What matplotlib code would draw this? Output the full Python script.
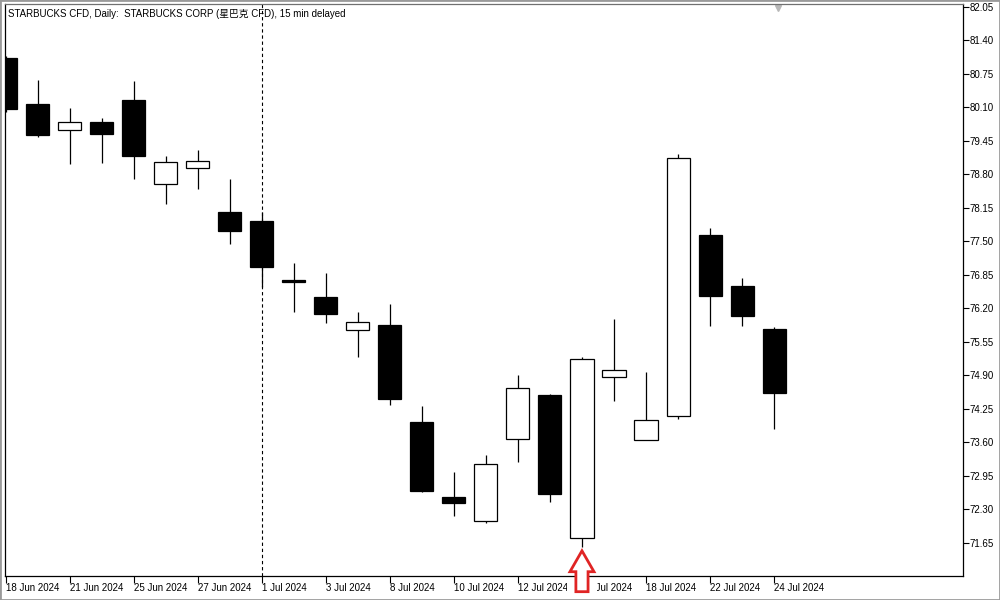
import matplotlib
matplotlib.use("Agg")
import matplotlib.pyplot as plt
import matplotlib.transforms as mtransforms
from matplotlib.patches import Polygon, Rectangle
import numpy as np

# daily candles, STARBUCKS CFD
dates = ['18 Jun 2024', '20 Jun 2024', '21 Jun 2024', '24 Jun 2024', '25 Jun 2024',
         '26 Jun 2024', '27 Jun 2024', '28 Jun 2024', '1 Jul 2024', '2 Jul 2024',
         '3 Jul 2024', '5 Jul 2024', '8 Jul 2024', '9 Jul 2024', '10 Jul 2024',
         '11 Jul 2024', '12 Jul 2024', '15 Jul 2024', '16 Jul 2024', '17 Jul 2024',
         '18 Jul 2024', '19 Jul 2024', '22 Jul 2024', '23 Jul 2024', '24 Jul 2024']
opens  = [81.05, 80.16, 79.65, 79.81, 80.24, 78.60, 78.91, 78.07, 77.89, 76.75,
          76.42, 75.77, 75.88, 73.99, 72.54, 72.07, 73.66, 74.52, 71.74, 74.86,
          73.64, 74.10, 77.62, 76.63, 75.80]
highs  = [81.10, 80.63, 80.08, 79.88, 80.61, 79.15, 79.27, 78.71, 78.07, 77.07,
          76.88, 76.13, 76.28, 74.30, 73.02, 73.35, 74.90, 74.53, 75.26, 75.99,
          74.96, 79.19, 77.76, 76.79, 75.83]
lows   = [80.00, 79.53, 79.00, 79.02, 78.71, 78.23, 78.52, 77.45, 76.61, 76.13,
          75.92, 75.26, 74.32, 72.64, 72.17, 72.03, 73.22, 72.43, 71.56, 74.39,
          73.63, 74.04, 75.86, 75.86, 73.86]
closes = [80.06, 79.55, 79.81, 79.57, 79.16, 79.03, 79.05, 77.70, 76.99, 76.70,
          76.09, 75.93, 74.43, 72.65, 72.41, 73.18, 74.65, 72.59, 75.21, 75.00,
          74.03, 79.11, 76.44, 76.04, 74.56]

title = 'STARBUCKS CFD, Daily:  STARBUCKS CORP (星巴克 CFD), 15 min delayed'
sep_date = '1 Jul 2024'      # period separator
marked_date = '16 Jul 2024'  # red arrow

fam = ['Liberation Sans', 'Noto Sans CJK SC']
fs = 7

fig = plt.figure(figsize=(10, 6), dpi=100)
ax = fig.add_axes([0.005, 0.04, 0.958, 0.954])

x = np.arange(len(dates))
o = np.array(opens)
c = np.array(closes)
bottoms = np.minimum(o, c)
heights = np.maximum(np.abs(c - o), 0.02)
colors = ['black' if cc < oo else 'white' for oo, cc in zip(o, c)]

ax.vlines(x, lows, highs, color='black', lw=0.9, zorder=2)
ax.bar(x, heights, bottom=bottoms, width=0.72, color=colors,
       edgecolor='black', linewidth=0.9, zorder=3)

ax.axvline(dates.index(sep_date), color='black', lw=0.8, ls=(0, (3, 2.5)), zorder=1)

ax.set_xlim(-0.02, 29.9)
ax.set_ylim(71.0, 82.11)

# price axis on the right
yt = np.arange(71.65, 82.06, 0.65)
ax.yaxis.tick_right()
ax.set_yticks(yt)
ax.set_yticklabels(['%.2f' % v for v in yt], fontsize=fs, family=fam)
ax.tick_params(axis='y', direction='out', length=4, width=0.8, pad=1)

xt = x[::2]
ax.set_xticks(xt)
ax.set_xticklabels([dates[i] for i in xt], fontsize=fs, family=fam, ha='left')
ax.tick_params(axis='x', direction='out', length=5, width=0.8, pad=0)

for s in ax.spines.values():
    s.set_linewidth(0.9)
    s.set_color('black')
ax.spines['top'].set_color('#707070')

ax.text(0.003, 0.99, title, transform=ax.transAxes, fontsize=fs, family=fam,
        va='top', ha='left')

# chart shift marker
ax.plot([0.807], [0.993], marker='v', ms=5, color='#b8b8b8',
        transform=ax.transAxes, clip_on=False)

# red hollow arrow under the marked candle (pasted on a white patch)
xm = dates.index(marked_date)
tr = mtransforms.blended_transform_factory(ax.transData, ax.transAxes)
ax.add_patch(Rectangle((xm - 0.48, -0.038), 0.96, 0.0345, transform=tr,
                       facecolor='white', edgecolor='none', clip_on=False, zorder=9))
arrow = [(xm, 0.044), (xm + 0.375, 0.0075), (xm + 0.19, 0.0075), (xm + 0.19, -0.0274),
         (xm - 0.19, -0.0274), (xm - 0.19, 0.0075), (xm - 0.375, 0.0075)]
ax.add_patch(Polygon(arrow, closed=True, transform=tr, facecolor='white',
                     edgecolor='#e02424', lw=2, clip_on=False, zorder=10))

fig.add_artist(Rectangle((0, 0), 1, 1, transform=fig.transFigure, fill=False,
                         edgecolor='#9a9a9a', lw=2))

fig.savefig('out.png', dpi=100)
